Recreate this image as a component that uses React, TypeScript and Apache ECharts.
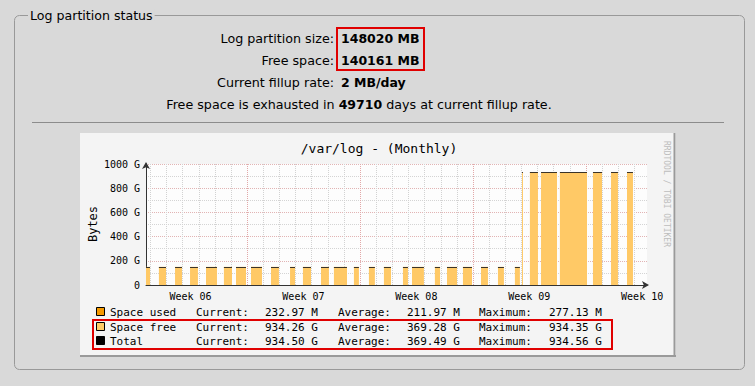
import { useEffect, useRef } from 'react';
import * as echarts from 'echarts';

const MONO = '"DejaVu Sans Mono", monospace';
const SANS = '"DejaVu Sans", sans-serif';

// ---------- page texts ----------
const fieldsetTitle = 'Log partition status';
const statusLabels = ['Log partition size:', 'Free space:', 'Current fillup rate:'];
const statusValues = ['148020 MB', '140161 MB', '2 MB/day'];
const exhaustDays = '49710';

// ---------- chart texts ----------
const chartTitle = '/var/log - (Monthly)';
const yAxisTitle = 'Bytes';
const watermark = 'RRDTOOL / TOBI OETIKER';

// ---------- x axis (days since start of Week 06) ----------
const weekLabels = ['Week 06', 'Week 07', 'Week 08', 'Week 09', 'Week 10'];
const weekLabelDays = [3.5, 10.5, 17.5, 24.5, 31.5];
const weekStartDays = [7, 14, 21, 28];
const dayLineDays = [1, 2, 3, 4, 5, 6, 8, 9, 10, 11, 12, 13, 15, 16, 17, 18, 19, 20, 22, 23, 24, 25, 26, 27, 29, 30, 31];
const xMinDay = 0.74;
const xMaxDay = 31.8;

// ---------- y axis (GB) ----------
const yMin = 0;
const yMax = 1000;
const yStep = 200;

// ---------- samples (known data intervals, in days) ----------
const sampleStart = [0.74, 1.54, 2.54, 3.47, 4.46, 5.57, 6.32, 7.25, 8.49, 9.67, 10.47, 11.59, 12.39, 13.63, 14.56, 15.49,
  16.67, 17.23, 18.65, 19.40, 20.39, 21.51, 22.56, 23.61, 24.05, 24.54, 25.23, 26.40, 28.45, 29.57, 30.56];
const sampleEnd = [0.99, 1.98, 2.97, 3.96, 5.14, 6.07, 6.94, 7.93, 8.98, 9.98, 10.97, 12.08, 13.20, 13.94, 14.93, 15.93,
  16.98, 17.97, 18.97, 20.02, 20.95, 21.94, 22.93, 23.92, 24.11, 25.04, 26.22, 28.08, 29.01, 30.00, 30.93];
const spaceUsedG = [0.20, 0.20, 0.20, 0.20, 0.21, 0.21, 0.21, 0.21, 0.21, 0.21, 0.21, 0.21, 0.21, 0.21, 0.21, 0.21,
  0.22, 0.22, 0.22, 0.22, 0.22, 0.22, 0.22, 0.22, 0.23, 0.23, 0.23, 0.23, 0.23, 0.23, 0.23];
const spaceFreeG = [150, 150, 150, 150, 150, 150, 150, 150, 150, 150, 150, 150, 150, 150, 150, 150,
  150, 150, 150, 150, 150, 150, 150, 150, 931, 931, 931, 931, 931, 931, 931];

// ---------- legend ----------
const legendNames = ['Space used', 'Space free', 'Total'];
const legendColors = ['#f59a00', '#ffcc66', '#000000'];
const legendCurrent = ['232.97 M', '934.26 G', '934.50 G'];
const legendAverage = ['211.97 M', '369.28 G', '369.49 G'];
const legendMaximum = ['277.13 M', '934.35 G', '934.56 G'];

const PAGE_BG = '#d9d9d9';
const FREE_COLOR = '#ffc966';
const USED_COLOR = '#f59a00';
const TOTAL_COLOR = '#3a3328';

export default function App() {
  const ref = useRef<HTMLDivElement>(null);

  useEffect(() => {
    const chart = echarts.init(ref.current!, null, { renderer: 'svg' });

    const gfx: any[] = [];
    // fieldset
    gfx.push({ type: 'rect', z: -20, shape: { x: 14.5, y: 15.5, width: 730, height: 354, r: 5 },
      style: { fill: 'none', stroke: '#999999', lineWidth: 1 } });
    gfx.push({ type: 'text', z: -15, x: 28, y: 15,
      style: { text: fieldsetTitle, font: `12.6px ${SANS}`, fill: '#000', textVerticalAlign: 'middle',
        backgroundColor: PAGE_BG, padding: [0, 2] } });
    // status lines
    const statusY = [38, 60, 82];
    statusLabels.forEach((t, i) => {
      gfx.push({ type: 'text', x: 334, y: statusY[i],
        style: { text: t, font: `12.7px ${SANS}`, fill: '#000', textAlign: 'right', textVerticalAlign: 'middle' } });
      gfx.push({ type: 'text', x: 341, y: statusY[i],
        style: { text: statusValues[i], font: `bold 12.5px ${SANS}`, fill: '#000', textAlign: 'left', textVerticalAlign: 'middle' } });
    });
    gfx.push({ type: 'text', x: 359, y: 104,
      style: {
        text: `{a|Free space is exhausted in }{b|${exhaustDays}}{a| days at current fillup rate.}`,
        textAlign: 'center', textVerticalAlign: 'middle',
        rich: {
          a: { font: `12.7px ${SANS}`, fill: '#000' },
          b: { font: `bold 12.5px ${SANS}`, fill: '#000' },
        },
      } });
    gfx.push({ type: 'rect', shape: { x: 337, y: 28, width: 87, height: 42 },
      style: { fill: 'none', stroke: '#e00000', lineWidth: 2 } });
    // separator
    gfx.push({ type: 'line', z: -15, shape: { x1: 32, y1: 122.5, x2: 724, y2: 122.5 },
      style: { stroke: '#8c8c8c', lineWidth: 1 } });
    // rrd image background + frame
    gfx.push({ type: 'rect', z: -15, shape: { x: 80, y: 133, width: 596, height: 224 },
      style: { fill: '#f4f4f4' } });
    gfx.push({ type: 'line', z: -14, shape: { x1: 674.5, y1: 133, x2: 674.5, y2: 357 },
      style: { stroke: '#9a9a9a', lineWidth: 2 } });
    gfx.push({ type: 'line', z: -14, shape: { x1: 80, y1: 356, x2: 676, y2: 356 },
      style: { stroke: '#9a9a9a', lineWidth: 2 } });
    // chart title, y title, watermark
    gfx.push({ type: 'text', x: 379, y: 148,
      style: { text: chartTitle, font: `13px ${MONO}`, fill: '#000', textAlign: 'center', textVerticalAlign: 'middle' } });
    gfx.push({ type: 'text', x: 93, y: 224, rotation: Math.PI / 2,
      style: { text: yAxisTitle, font: `12px ${MONO}`, fill: '#000', textAlign: 'center', textVerticalAlign: 'middle' } });
    gfx.push({ type: 'text', x: 666, y: 194, rotation: -Math.PI / 2,
      style: { text: watermark, font: `8px ${MONO}`, fill: '#bdbdbd', textAlign: 'center', textVerticalAlign: 'middle' } });
    // legend rows
    const rowY = [312, 327, 341];
    legendNames.forEach((n, i) => {
      gfx.push({ type: 'rect', shape: { x: 96.5, y: rowY[i] - 4.5, width: 8, height: 8 },
        style: { fill: legendColors[i], stroke: '#000', lineWidth: 1 } });
      const cells: [string, number][] = [
        [n, 110], ['Current:', 196], [legendCurrent[i], 265],
        ['Average:', 338], [legendAverage[i], 407], ['Maximum:', 479], [legendMaximum[i], 549],
      ];
      cells.forEach(([t, x]) => {
        gfx.push({ type: 'text', x, y: rowY[i],
          style: { text: t, font: `11px ${MONO}`, fill: '#000', textVerticalAlign: 'middle' } });
      });
    });
    gfx.push({ type: 'rect', shape: { x: 93, y: 320, width: 519, height: 29 },
      style: { fill: 'none', stroke: '#e00000', lineWidth: 2 } });

    const vLine = (color: string) => (params: any, api: any) => {
      const cs = params.coordSys;
      const x = Math.round(api.coord([api.value(0), 0])[0]) + 0.5;
      return { type: 'line', shape: { x1: x, y1: cs.y, x2: x, y2: cs.y + cs.height },
        style: { stroke: color, lineWidth: 1, lineDash: [1, 1] } };
    };
    const areaItem = (fill: string) => (_p: any, api: any) => {
      const a = api.coord([api.value(0), api.value(3)]);
      const b = api.coord([api.value(1), api.value(2)]);
      return { type: 'rect', shape: { x: a[0], y: a[1], width: b[0] - a[0], height: b[1] - a[1] }, style: { fill } };
    };
    const topLine = (_p: any, api: any) => {
      const a = api.coord([api.value(0), api.value(2)]);
      const b = api.coord([api.value(1), api.value(2)]);
      const y = Math.round(a[1]) + 0.5;
      return { type: 'line', shape: { x1: a[0], y1: y, x2: b[0], y2: y },
        style: { stroke: TOTAL_COLOR, lineWidth: 1 } };
    };

    const usedData = sampleStart.map((s, i) => [s, sampleEnd[i], 0, spaceUsedG[i]]);
    const freeData = sampleStart.map((s, i) => [s, sampleEnd[i], spaceUsedG[i], spaceUsedG[i] + spaceFreeG[i]]);
    const totalData = sampleStart.map((s, i) => [s, sampleEnd[i], spaceUsedG[i] + spaceFreeG[i]]);

    chart.setOption({
      animation: false,
      backgroundColor: PAGE_BG,
      graphic: { elements: gfx },
      grid: { left: 146, top: 164, width: 501, height: 121, show: true, backgroundColor: '#fdfdfd', borderWidth: 0 },
      xAxis: {
        type: 'value', min: xMinDay, max: xMaxDay,
        axisLine: { show: true, lineStyle: { color: '#333', width: 1 }, symbol: ['none', 'arrow'], symbolSize: [6, 7], symbolOffset: [0, 2] },
        axisTick: { show: false },
        splitLine: { show: false },
        axisLabel: {
          customValues: weekLabelDays,
          formatter: (v: number) => weekLabels[weekLabelDays.indexOf(v)] ?? '',
          fontFamily: MONO, fontSize: 10, color: '#000', margin: 6,
        },
      },
      yAxis: {
        type: 'value', min: yMin, max: yMax, interval: yStep,
        axisLine: { show: true, lineStyle: { color: '#333', width: 1 }, symbol: ['none', 'arrow'], symbolSize: [6, 7], symbolOffset: [0, 2] },
        axisTick: { show: false },
        axisLabel: { formatter: (v: number) => (v === 0 ? '0' : `${v} G`), fontFamily: MONO, fontSize: 10, color: '#000', margin: 6 },
        splitLine: { show: true, lineStyle: { color: '#e2b4b4', width: 1, type: [1, 1] } },
        minorTick: { show: false, splitNumber: 2 },
        minorSplitLine: { show: true, lineStyle: { color: '#d4d4d4', width: 1, type: [1, 1] } },
      },
      series: [
        { type: 'custom', name: 'day grid', z: 1, silent: true, clip: true,
          data: dayLineDays.map((d) => [d, 0]), encode: { x: 0, y: 1 }, renderItem: vLine('#d2d2d2') },
        { type: 'custom', name: 'week grid', z: 1, silent: true, clip: true,
          data: weekStartDays.map((d) => [d, 0]), encode: { x: 0, y: 1 }, renderItem: vLine('#e2a8a8') },
        { type: 'custom', name: 'Space used', z: 3, clip: true,
          data: usedData, encode: { x: [0, 1], y: [2, 3] }, renderItem: areaItem(USED_COLOR) },
        { type: 'custom', name: 'Space free', z: 3, clip: true,
          data: freeData, encode: { x: [0, 1], y: [2, 3] }, renderItem: areaItem(FREE_COLOR) },
        { type: 'custom', name: 'Total', z: 4, clip: true,
          data: totalData, encode: { x: [0, 1], y: 2 }, renderItem: topLine },
      ],
    });
    return () => chart.dispose();
  }, []);

  return <div ref={ref} style={{ position: 'fixed', left: 0, top: 0, width: 755, height: 386 }} />;
}
